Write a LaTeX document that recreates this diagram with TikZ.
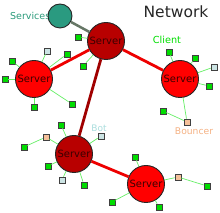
\documentclass[tikz,border=0pt]{standalone}
\usepackage{fontspec}
\setmainfont{DejaVu Sans}
\definecolor{srvred}{HTML}{FF0000}
\definecolor{srvdark}{HTML}{B80000}
\definecolor{edgered}{HTML}{EE0000}
\definecolor{edgedark}{HTML}{A00000}
\definecolor{cligreen}{HTML}{00DD00}
\definecolor{clilink}{HTML}{66EE66}
\definecolor{botfill}{HTML}{CCE4E4}
\definecolor{bncfill}{HTML}{F5C09A}
\definecolor{svcfill}{HTML}{2A9A80}
\definecolor{svcedge}{HTML}{667766}
\definecolor{svctext}{HTML}{2A9A7A}
\definecolor{bottext}{HTML}{AADDDD}
\definecolor{bnctext}{HTML}{F4B183}
\definecolor{srvtext}{HTML}{3A0000}
\tikzset{
  server/.style={circle,draw=black!85,line width=0.9pt,fill=srvred,minimum size=37pt,inner sep=0pt,text=srvtext,font=\fontsize{10}{10}\selectfont},
  serverdark/.style={server,fill=srvdark},
  client/.style={rectangle,draw=black!75,line width=0.7pt,fill=cligreen,minimum size=6pt,inner sep=0pt},
  botnode/.style={client,fill=botfill},
  bncnode/.style={client,fill=bncfill},
  link/.style={clilink,line width=0.7pt},
  bigedge/.style={edgered,line width=2.8pt},
  darkedge/.style={edgedark,line width=2.8pt},
}
\begin{document}
\begin{tikzpicture}[x=1pt,y=-1pt]
\useasboundingbox (0,0) rectangle (220,213);
% labels
\node[anchor=west,inner sep=0pt,text=svctext,font=\fontsize{9.5}{9.5}\selectfont] (svlab) at (10,16) {Services};
\node[inner sep=0pt,text=black!85,font=\fontsize{15.5}{15.5}\selectfont] (title) at (176,12) {Network};
\node[inner sep=0pt,text=cligreen,font=\fontsize{9.7}{9.7}\selectfont] (clab) at (167,40) {Client};
\node[inner sep=0pt,text=bottext,font=\fontsize{9}{9}\selectfont] (blab) at (99,128) {Bot};
\node[inner sep=0pt,text=bnctext,font=\fontsize{9.2}{9.2}\selectfont] (bnlab) at (194,131) {Bouncer};
% service and servers
\node[circle,draw=black!85,line width=0.9pt,fill=svcfill,minimum size=24pt,inner sep=0pt] (svc) at (60,16) {};
\node[serverdark] (T) at (106,41) {Server};
\node[server] (L) at (34,79) {Server};
\node[server] (R) at (180,79) {Server};
\node[serverdark] (B) at (74,154) {Server};
\node[server] (BR) at (146,184) {Server};
% clients
\node[client] (l1) at (12,61) {};
\node[client] (l2) at (5,79) {};
\node[client] (l3) at (34,107) {};
\node[client] (l4) at (72,104) {};
\node[client] (l5) at (67,54) {};
\node[botnode] (lbot) at (47,51) {};
\node[client] (t1) at (78,37) {};
\node[client] (t2) at (83,66) {};
\node[client] (r1) at (169,52) {};
\node[client] (r2) at (195,58) {};
\node[botnode] (rbot) at (214,67) {};
\node[client] (r3) at (209,86) {};
\node[bncnode] (rbn) at (187,122) {};
\node[client] (r4) at (163,111) {};
\node[client] (b1) at (61,125) {};
\node[bncnode] (bbn) at (46,137) {};
\node[client] (b2) at (24,147) {};
\node[client] (b3) at (48,166) {};
\node[botnode] (bbot2) at (62,180) {};
\node[client] (b4) at (84,185) {};
\node[botnode] (bbot) at (101,136) {};
\node[client] (br1) at (135,157) {};
\node[bncnode] (brbn) at (178,177) {};
\node[client] (br2) at (207,186) {};
\node[client] (br3) at (159,207) {};
\node[client] (br4) at (112,202) {};
% client links
\foreach \c in {l1,l2,l3,l4,l5,lbot} \draw[link] (\c) -- (L);
\foreach \c in {t1,t2} \draw[link] (\c) -- (T);
\foreach \c in {r1,r2,rbot,r3,rbn} \draw[link] (\c) -- (R);
\draw[link] (r4) -- (rbn);
\foreach \c in {b1,bbn,b3,bbot2,b4,bbot} \draw[link] (\c) -- (B);
\draw[link] (b2) -- (bbn);
\foreach \c in {br1,brbn,br3,br4} \draw[link] (\c) -- (BR);
\draw[link] (br2) -- (brbn);
% server edges
\draw[svcedge,line width=2.5pt] (svc) -- (T);
\draw[bigedge] (T) -- (L);
\draw[bigedge] (T) -- (R);
\draw[darkedge] (T) -- (B);
\draw[bigedge] (B) -- (BR);
\end{tikzpicture}
\end{document}
